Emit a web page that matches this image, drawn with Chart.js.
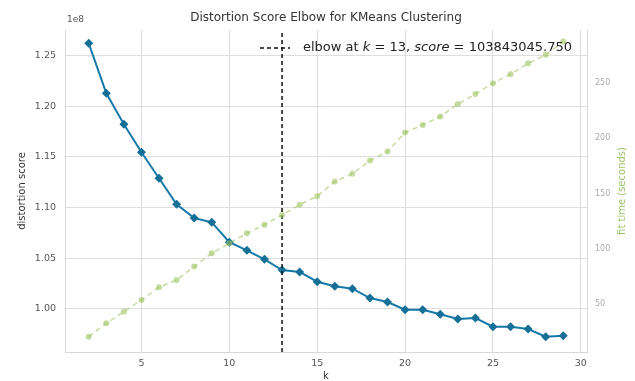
<!DOCTYPE html>
<html>
<head>
<meta charset="utf-8">
<script src="https://cdn.jsdelivr.net/npm/chart.js@4"></script>
<style>
  html, body { margin: 0; padding: 0; background: #fff; }
  #wrap { width: 635px; height: 381px; }
</style>
</head>
<body>
<div id="wrap"><canvas id="elbow"></canvas></div>
<script>
// k values tried
const ks = [2,3,4,5,6,7,8,9,10,11,12,13,14,15,16,17,18,19,20,21,22,23,24,25,26,27,28,29];
// distortion score (x1e8)
const scores = [1.262,1.2127,1.1821,1.1545,1.1289,1.1033,1.0897,1.0855,1.0658,1.0579,1.049,1.0384,
                1.0365,1.0269,1.0224,1.020,1.0108,1.0069,0.9993,0.9993,0.9948,0.9901,0.9911,0.9826,
                0.9826,0.9803,0.9727,0.9737];
// fit time (seconds)
const fitTimes = [20.4,32.5,43,53.6,65.1,71.7,83.8,95.9,105,114,121.6,130.6,139.7,147.6,160.8,167.8,
                  179.8,188,205.2,212,219.7,231,240,249.9,258,267.8,275.5,287.6];
const elbowK = 13;
const elbowScore = 103843045.750;

// left axis is in units of 1e8
const yMin = 0.9576, yMax = 1.2751;

const FONT = "'DejaVu Sans', sans-serif";
const BLUE = '#1479a8';
const GREEN = 'rgba(160,195,95,0.6)';

// title, offset text, right axis label and the legend
const extras = {
    id: 'extras',
    afterDraw(chart) {
        const ctx = chart.ctx;
        const a = chart.chartArea;
        ctx.save();
        ctx.fillStyle = '#333';
        ctx.font = '12px ' + FONT;
        ctx.textAlign = 'center';
        ctx.textBaseline = 'middle';
        ctx.fillText('Distortion Score Elbow for KMeans Clustering', (a.left + a.right) / 2, 18);
        ctx.font = '9px ' + FONT;
        ctx.textAlign = 'left';
        ctx.fillStyle = '#555';
        ctx.fillText('1e8', a.left + 2, 20);

        // legend
        const ly = a.top + 18;
        ctx.strokeStyle = '#111';
        ctx.lineWidth = 1.5;
        ctx.setLineDash([4, 3]);
        ctx.beginPath();
        ctx.moveTo(a.right - 327, ly);
        ctx.lineTo(a.right - 297, ly);
        ctx.stroke();
        ctx.setLineDash([]);
        ctx.fillStyle = '#222';
        let x = a.right - 284;
        const parts = [['elbow at ', ''], ['k', 'italic '], [' = ' + elbowK + ', ', ''], ['score', 'italic '],
                       [' = ' + elbowScore.toFixed(3), '']];
        for (const [t, st] of parts) {
            ctx.font = st + '13px ' + FONT;
            ctx.fillText(t, x, ly);
            x += ctx.measureText(t).width;
        }

        ctx.translate(622, (a.top + a.bottom) / 2);
        ctx.rotate(-Math.PI / 2);
        ctx.textAlign = 'center';
        ctx.fillStyle = '#9cc46a';
        ctx.font = '10px ' + FONT;
        ctx.fillText('fit time (seconds)', 0, 0);
        ctx.restore();
    }
};

new Chart(document.getElementById('elbow'), {
    type: 'line',
    data: {
        datasets: [
            {
                label: 'fit time',
                data: ks.map((k, i) => ({x: k, y: fitTimes[i]})),
                yAxisID: 'y2',
                borderColor: GREEN,
                backgroundColor: GREEN,
                borderWidth: 1.5,
                borderDash: [5, 4],
                pointRadius: 3,
                pointBorderWidth: 0,
                order: 0
            },
            {
                label: 'elbow',
                data: [{x: elbowK, y: yMin}, {x: elbowK, y: yMax}],
                yAxisID: 'y',
                borderColor: '#111',
                borderWidth: 1.5,
                borderDash: [4, 3],
                pointRadius: 0,
                order: 1
            },
            {
                label: 'distortion',
                data: ks.map((k, i) => ({x: k, y: scores[i]})),
                yAxisID: 'y',
                borderColor: BLUE,
                backgroundColor: '#166f96',
                borderWidth: 2,
                pointStyle: 'rectRot',
                pointRadius: 4.5,
                pointBorderWidth: 0,
                order: 2
            }
        ]
    },
    options: {
        responsive: true,
        maintainAspectRatio: false,
        animation: false,
        layout: { padding: { top: 30, left: 0, right: 0, bottom: 0 } },
        plugins: {
            tooltip: { enabled: false },
            title: { display: false },
            legend: { display: false }
        },
        scales: {
            x: {
                type: 'linear',
                min: 0.65,
                max: 30.35,
                afterFit(s) { s.height = 29; },
                ticks: {
                    stepSize: 5,
                    includeBounds: false,
                    color: '#555',
                    font: { family: FONT, size: 9.5 },
                    padding: 6
                },
                grid: { color: '#dedede', drawTicks: false },
                border: { color: '#d8d8d8' },
                title: {
                    display: true, text: 'k', color: '#333',
                    font: { family: FONT, size: 10, lineHeight: 1 },
                    padding: 0
                }
            },
            y: {
                position: 'left',
                min: yMin,
                max: yMax,
                afterFit(s) { s.width = 65; },
                ticks: {
                    stepSize: 0.05,
                    includeBounds: false,
                    color: '#555',
                    font: { family: FONT, size: 9.5 },
                    padding: 9,
                    callback: v => v.toFixed(2)
                },
                grid: { color: '#dedede', drawTicks: false },
                border: { color: '#d8d8d8' },
                title: {
                    display: true, text: 'distortion score', color: '#333',
                    font: { family: FONT, size: 10 },
                    padding: { top: 16 }
                }
            },
            y2: {
                position: 'right',
                min: 6.5,
                max: 298,
                afterFit(s) { s.width = 48; },
                ticks: {
                    stepSize: 50,
                    includeBounds: false,
                    color: '#aaa',
                    font: { family: FONT, size: 8 },
                    padding: 8
                },
                grid: { display: false, drawTicks: false },
                border: { color: '#d8d8d8' }
            }
        }
    },
    plugins: [extras]
});
</script>
</body>
</html>
